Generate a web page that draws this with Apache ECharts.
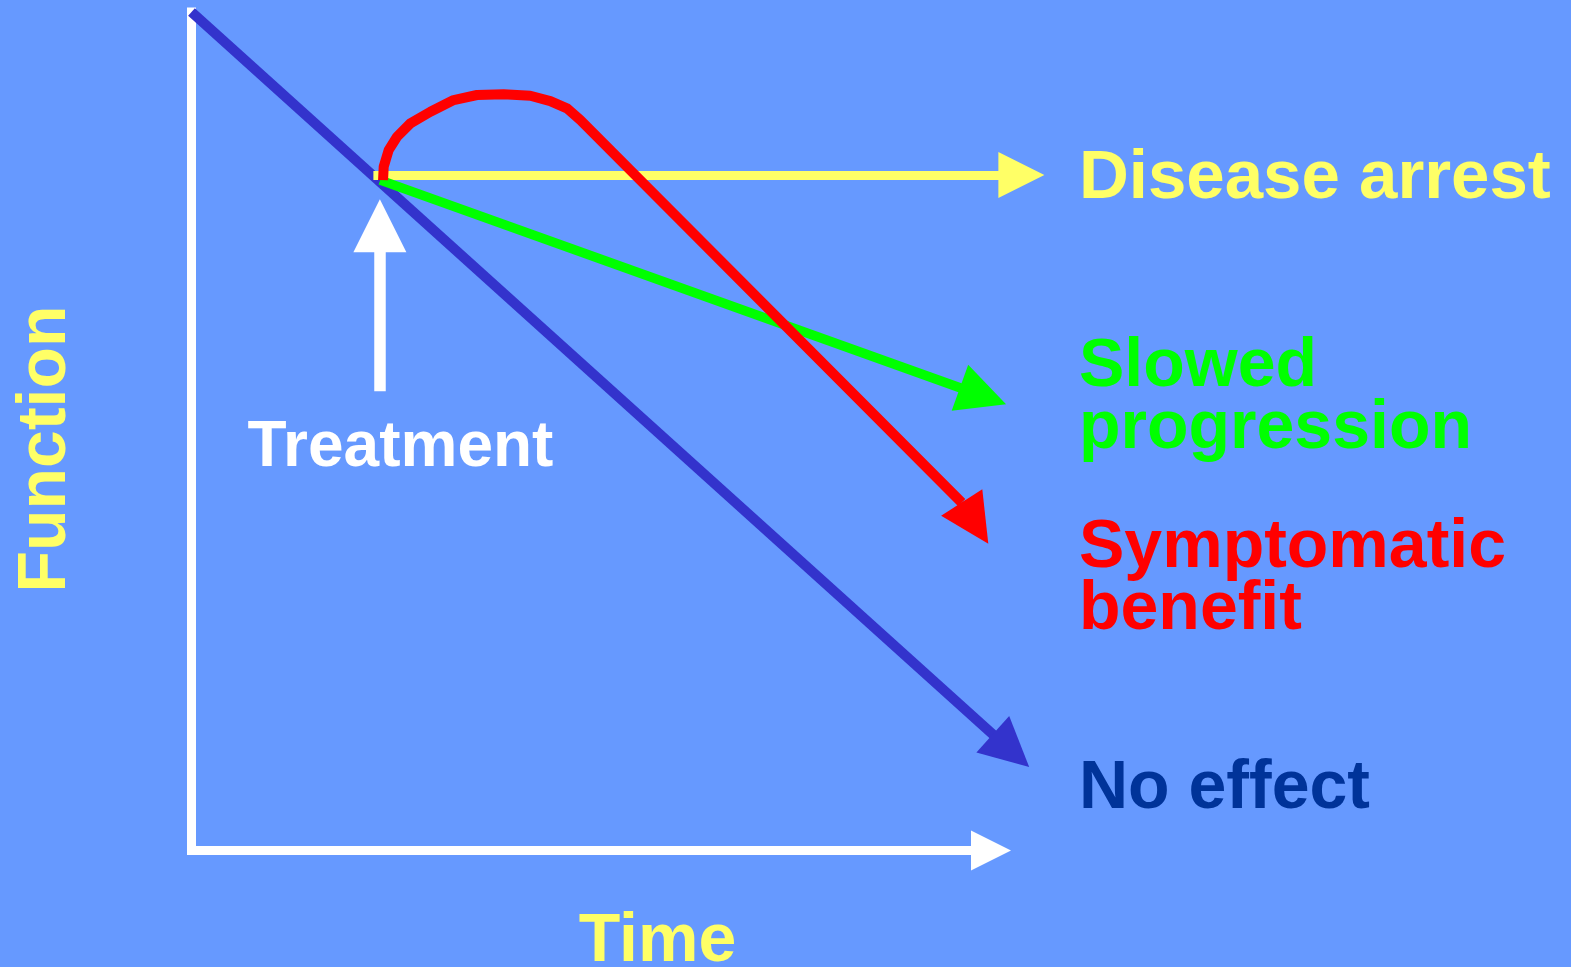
<!DOCTYPE html>
<html>
<head>
<meta charset="utf-8">
<script src="https://cdn.jsdelivr.net/npm/echarts@6/dist/echarts.min.js"></script>
<style>
html,body{margin:0;padding:0;background:#6699FF;}
#chart{width:1571px;height:967px;}
</style>
</head>
<body>
<div id="chart"></div>
<script>
// ---- data (Time on x, Function on y, both 0..100) ----
const timeRange = [0, 100];
const functionRange = [0, 100];
const noEffect = [[0, 100], [102.5, 11.9]];
const diseaseArrest = [[22.75, 80.55], [103.8, 80.55]];
const slowedProgression = [[23.6, 79.95], [99.0, 54.2]];
const symptomaticBenefit = [
  [23.96, 79.95], [24.04, 81.54], [24.66, 83.53], [25.71, 85.12], [27.38, 86.72],
  [29.88, 88.10], [32.79, 89.50], [35.71, 90.10], [39.04, 90.18], [42.38, 90.01],
  [44.88, 89.38], [46.96, 88.51], [48.63, 87.11], [96.34, 41.49]
];
const symptomaticTip = [[96.34, 41.49], [98.0, 39.04]];
const treatmentArrow = [[23.56, 54.77], [23.56, 74.5]];
const outcomeLabels = ['Disease arrest', 'Slowed\nprogression', 'Symptomatic\nbenefit', 'No effect'];
const treatmentLabel = 'Treatment';
const xAxisName = 'Time';
const yAxisName = 'Function';

const FONT = '"Liberation Sans", Arial, Helvetica, sans-serif';

function arrow(coords, color, width, size, z) {
  return {
    type: 'lines', coordinateSystem: 'cartesian2d', polyline: false, clip: false,
    silent: true, z: z, animation: false,
    symbol: ['none', 'triangle'], symbolSize: [0, size],
    lineStyle: { color: color, width: width, opacity: 1, curveness: 0, cap: 'butt' },
    data: [{ coords: coords }]
  };
}
function label(text, x, y, color, size) {
  return {
    type: 'text', x: x, y: y, z: 20, silent: true,
    style: {
      text: text, fill: color, font: 'bold ' + size + 'px ' + FONT,
      align: 'left', textAlign: 'left', verticalAlign: 'top', textVerticalAlign: 'top',
      lineHeight: 62
    }
  };
}

const chart = echarts.init(document.getElementById('chart'));
chart.setOption({
  animation: false,
  backgroundColor: '#6699FF',
  grid: { left: 191.5, right: 580, top: 12, bottom: 116.5, containLabel: false },
  xAxis: {
    type: 'value', min: timeRange[0], max: timeRange[1],
    axisLine: { show: true, onZero: false, symbol: ['none', 'triangle'], symbolSize: [40, 40],
      lineStyle: { color: '#FFFFFF', width: 9, cap: 'square' } },
    axisTick: { show: false }, axisLabel: { show: false }, splitLine: { show: false }
  },
  yAxis: {
    type: 'value', min: functionRange[0], max: functionRange[1],
    axisLine: { show: true, onZero: false, lineStyle: { color: '#FFFFFF', width: 9, cap: 'square' } },
    axisTick: { show: false }, axisLabel: { show: false }, splitLine: { show: false }
  },
  series: [
    arrow(noEffect, '#3333CC', 10, 49, 2),
    arrow(diseaseArrest, '#FFFF66', 9, 46, 3),
    arrow(slowedProgression, '#00FF00', 9.5, 49, 4),
    {
      type: 'line', data: symptomaticBenefit, z: 5, clip: false, silent: true,
      showSymbol: false, symbol: 'none', smooth: false,
      lineStyle: { color: '#FF0000', width: 10, join: 'round', cap: 'butt' }
    },
    arrow(symptomaticTip, '#FF0000', 10, 49, 5),
    arrow(treatmentArrow, '#FFFFFF', 11.5, 53, 6)
  ],
  graphic: [
    label(outcomeLabels[0], 1079, 148, '#FFFF66', 69),
    label(outcomeLabels[1], 1079, 336.5, '#00FF00', 68),
    label(outcomeLabels[2], 1079, 517, '#FF0000', 68),
    label(outcomeLabels[3], 1079, 758, '#003399', 68),
    label(treatmentLabel, 247.5, 417, '#FFFFFF', 64),
    {
      type: 'text', x: 657.5, y: 942, z: 20, silent: true,
      style: { text: xAxisName, fill: '#FFFF66', font: 'bold 68px ' + FONT,
        align: 'center', textAlign: 'center', verticalAlign: 'middle', textVerticalAlign: 'middle' }
    },
    {
      type: 'text', x: 46, y: 449, rotation: Math.PI / 2, z: 20, silent: true,
      style: { text: yAxisName, fill: '#FFFF66', font: 'bold 68px ' + FONT,
        align: 'center', textAlign: 'center', verticalAlign: 'middle', textVerticalAlign: 'middle' }
    }
  ]
});
</script>
</body>
</html>
